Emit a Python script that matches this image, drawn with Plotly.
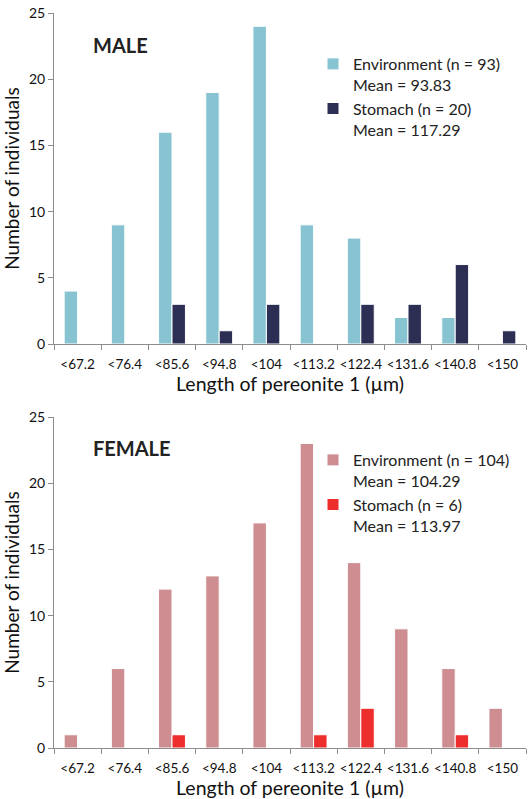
import plotly.graph_objects as go

categories = ["<67.2", "<76.4", "<85.6", "<94.8", "<104", "<113.2", "<122.4", "<131.6", "<140.8", "<150"]
male_env = [4, 9, 16, 19, 24, 9, 8, 2, 2, 0]
male_stomach = [0, 0, 3, 1, 3, 0, 3, 3, 6, 1]
female_env = [1, 6, 12, 13, 17, 23, 14, 9, 6, 3]
female_stomach = [0, 0, 1, 0, 0, 1, 3, 0, 1, 0]

male_env_name = "Environment (n = 93)<br>Mean = 93.83"
male_st_name = "Stomach (n = 20)<br>Mean = 117.29"
female_env_name = "Environment (n = 104)<br>Mean = 104.29"
female_st_name = "Stomach (n = 6)<br>Mean = 113.97"

FONT = "Lato"
AX = "#8c8c8c"

fig = go.Figure()
fig.add_trace(go.Bar(x=categories, y=male_env, name=male_env_name, marker=dict(color="#87C3D1", line=dict(color="white", width=1)), xaxis="x", yaxis="y", legend="legend"))
fig.add_trace(go.Bar(x=categories, y=male_stomach, name=male_st_name, marker=dict(color="#2C2E54", line=dict(color="white", width=1)), xaxis="x", yaxis="y", legend="legend"))
fig.add_trace(go.Bar(x=categories, y=female_env, name=female_env_name, marker=dict(color="#CD8D91", line=dict(color="white", width=1)), xaxis="x2", yaxis="y2", legend="legend2"))
fig.add_trace(go.Bar(x=categories, y=female_stomach, name=female_st_name, marker=dict(color="#EE2D2D", line=dict(color="white", width=1)), xaxis="x2", yaxis="y2", legend="legend2"))

H = 799
T, B = 13, 51
ph = H - T - B
top_dom = [1 - 331 / ph, 1]
bot_dom = [0, 331 / ph]

xcommon = dict(showline=True, linecolor=AX, linewidth=1, ticks="outside", tickson="boundaries",
               ticklen=5, tickcolor=AX, tickangle=0, automargin=False, ticklabelstandoff=8,
               tickfont=dict(size=13.5, color="#111", family=FONT),
               showgrid=False, zeroline=False,
               title=dict(text="Length of pereonite 1 (µm)", font=dict(size=19.5, color="#111", family=FONT), standoff=5))
ycommon = dict(range=[0, 25], dtick=5, showline=True, linecolor=AX, linewidth=1, ticks="outside",
               ticklen=5, tickcolor=AX, automargin=False,
               tickfont=dict(size=14, color="#111", family=FONT),
               showgrid=False, zeroline=False,
               title=dict(text="Number of individuals", font=dict(size=19, color="#111", family=FONT), standoff=4))

legcommon = dict(font=dict(size=16, color="#222", family=FONT), valign="top", bgcolor="rgba(0,0,0,0)",
                 xanchor="left", yanchor="top", tracegroupgap=0, itemclick=False)

fig.update_layout(
    width=530, height=H,
    margin=dict(l=54, r=4, t=T, b=B),
    paper_bgcolor="white", plot_bgcolor="white",
    barmode="group", bargap=0.43, bargroupgap=0,
    font=dict(family=FONT),
    xaxis=dict(domain=[0, 1], anchor="y", **xcommon),
    yaxis=dict(domain=top_dom, anchor="x", **ycommon),
    xaxis2=dict(domain=[0, 1], anchor="y2", **xcommon),
    yaxis2=dict(domain=bot_dom, anchor="x2", **ycommon),
    legend=dict(x=(313 - 54) / 472, y=1 - (47 - T) / ph, **legcommon),
    legend2=dict(x=(313 - 54) / 472, y=1 - (443 - T) / ph, **legcommon),
    annotations=[
        dict(text="<b>MALE</b>", x=(120 - 54) / 472, y=1 - (45 - T) / ph, xref="paper", yref="paper",
             xanchor="center", yanchor="middle",
             showarrow=False, font=dict(size=20, color="#222", family=FONT)),
        dict(text="<b>FEMALE</b>", x=(131.5 - 54) / 472, y=1 - (448 - T) / ph, xref="paper", yref="paper",
             xanchor="center", yanchor="middle",
             showarrow=False, font=dict(size=20, color="#222", family=FONT)),
    ],
)

fig.write_html("out.html", config={"displayModeBar": False},
               post_script="document.body.style.margin='0';document.body.style.overflow='hidden';")
